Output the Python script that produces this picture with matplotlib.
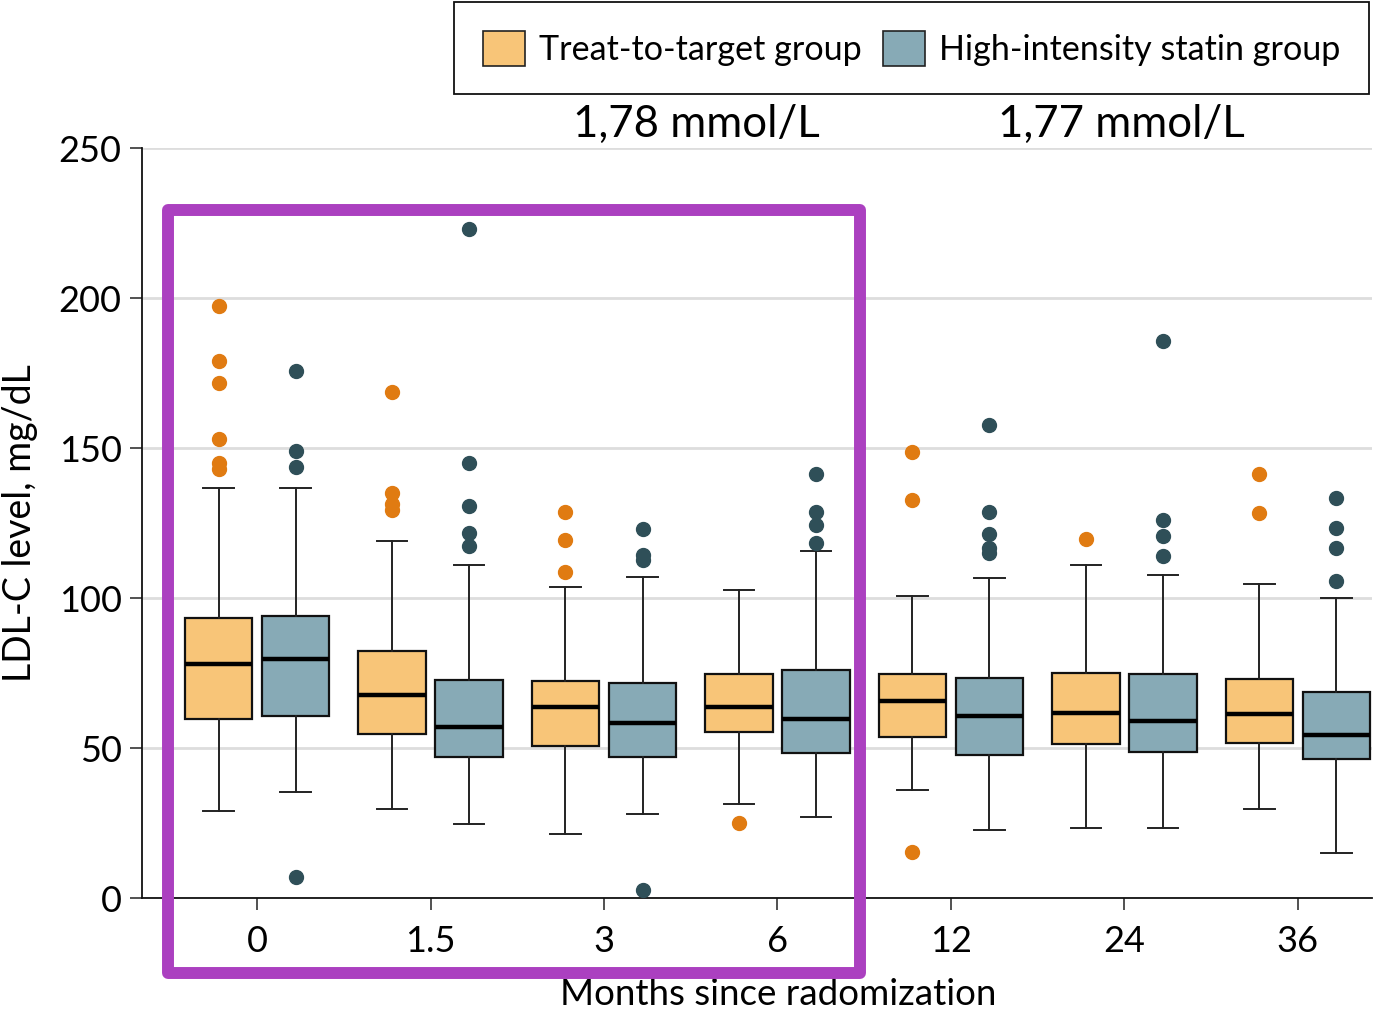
import matplotlib
matplotlib.use("Agg")
import matplotlib.pyplot as plt
from matplotlib.patches import Patch, Rectangle
import numpy as np

plt.rcParams['font.family'] = ['Lato', 'DejaVu Sans']

months = ["0", "1.5", "3", "6", "12", "24", "36"]

treat_q1 = [59.8, 54.6, 50.8, 55.4, 53.8, 51.4, 51.7]
treat_med = [77.9, 67.8, 63.6, 63.6, 65.7, 61.7, 61.4]
treat_q3 = [93.3, 82.2, 72.5, 74.7, 74.7, 75.1, 73.0]
treat_wlo = [28.9, 29.8, 21.5, 31.5, 36.0, 23.5, 29.6]
treat_whi = [136.8, 118.9, 103.6, 102.7, 100.8, 111.0, 104.6]
treat_fliers = [[197.4, 179.0, 171.8, 152.9, 144.9, 143.1],
                [168.6, 135.0, 131.5, 129.2],
                [128.8, 119.2, 108.6],
                [24.9],
                [148.7, 132.7, 15.4],
                [119.8],
                [141.3, 128.3]]

statin_q1 = [60.7, 47.1, 47.1, 48.2, 47.7, 48.7, 46.2]
statin_med = [79.6, 56.9, 58.4, 59.7, 60.6, 58.9, 54.3]
statin_q3 = [93.9, 72.7, 71.6, 75.9, 73.2, 74.7, 68.6]
statin_wlo = [35.2, 24.8, 28.0, 26.9, 22.7, 23.5, 14.9]
statin_whi = [136.8, 110.9, 107.0, 115.8, 106.6, 107.7, 100.0]
statin_fliers = [[175.7, 148.9, 143.7, 7.0],
                 [223.1, 145.1, 130.7, 121.8, 117.5],
                 [123.0, 114.5, 112.8, 2.7],
                 [141.2, 128.8, 124.5, 118.4],
                 [157.8, 128.7, 121.4, 116.6, 115.1],
                 [185.6, 125.9, 120.7, 114.0],
                 [133.2, 123.5, 116.7, 105.6]]

group_labels = ["Treat-to-target group", "High-intensity statin group"]
target_labels = ["1,78 mmol/L", "1,77 mmol/L"]

treat_fill = "#F8C578"
statin_fill = "#87AAB6"
treat_dot = "#E07B12"
statin_dot = "#2F4F58"
purple = "#AB40C0"

W, H = 1377, 1015
fig = plt.figure(figsize=(W / 100, H / 100), dpi=100)
ax = fig.add_axes([142 / W, 1 - 898 / H, (1372 - 142) / W, 750 / H])


def stats(q1, med, q3, lo, hi, fl):
    return [dict(q1=a, med=b, q3=c, whislo=d, whishi=e, fliers=f)
            for a, b, c, d, e, f in zip(q1, med, q3, lo, hi, fl)]


x = np.arange(len(months))
off = 0.222
bw = 0.39


def draw(st, pos, fill, dot):
    ax.bxp(st, positions=pos, widths=bw, capwidths=0.175, patch_artist=True,
           manage_ticks=False,
           boxprops=dict(facecolor=fill, edgecolor="#111111", linewidth=1.6),
           medianprops=dict(color="black", linewidth=3.2),
           whiskerprops=dict(color="#222222", linewidth=1.4),
           capprops=dict(color="#222222", linewidth=1.4),
           flierprops=dict(marker="o", markersize=10, markerfacecolor=dot,
                           markeredgecolor=dot, linestyle="none"),
           zorder=3)


draw(stats(treat_q1, treat_med, treat_q3, treat_wlo, treat_whi, treat_fliers),
     x - off, treat_fill, treat_dot)
draw(stats(statin_q1, statin_med, statin_q3, statin_wlo, statin_whi, statin_fliers),
     x + off, statin_fill, statin_dot)

ax.set_xlim(-0.663, 6.427)
ax.set_ylim(0, 250)
ax.set_yticks([0, 50, 100, 150, 200, 250])
ax.set_xticks(x)
ax.set_xticklabels(months)
ax.yaxis.grid(True, color="#dddddd", linewidth=2)
ax.set_axisbelow(True)
for s in ["top", "right"]:
    ax.spines[s].set_visible(False)
for s in ["left", "bottom"]:
    ax.spines[s].set_linewidth(1.3)
    ax.spines[s].set_color("#111111")
ax.tick_params(axis="both", labelsize=26, length=8.6, width=1.2, color="#333333")
ax.tick_params(axis="x", pad=11)
ax.tick_params(axis="y", pad=6)

ax.set_ylabel("LDL-C level, mg/dL", fontsize=27)
ax.yaxis.set_label_coords(-0.0846, 0.5)
ax.set_xlabel("Months since radomization", fontsize=26.5)
ax.xaxis.set_label_coords(0.517, -0.107)

# Purple highlight frame around the first four time points
rect = Rectangle((-0.513, -25.0), 3.476 + 0.513, 229.5 + 25.0, fill=False,
                 edgecolor=purple, linewidth=8.6, joinstyle="round",
                 clip_on=False, zorder=5)
ax.add_patch(rect)

handles = [Patch(facecolor=treat_fill, edgecolor="#222222", linewidth=1.2),
           Patch(facecolor=statin_fill, edgecolor="#222222", linewidth=1.2)]
leg = fig.legend(handles, group_labels, loc="upper right",
                 bbox_to_anchor=(1369 / W, 1 - 2 / H), ncol=2, fontsize=24.6,
                 frameon=True, fancybox=False, edgecolor="#111111",
                 framealpha=1, borderaxespad=0, borderpad=0.84,
                 handlelength=1.24, handleheight=1.2, handletextpad=0.4,
                 columnspacing=0.62)
leg.get_frame().set_linewidth(1.3)

fig.text(696 / W, 1 - 137 / H, target_labels[0], fontsize=31.5, ha="center",
         va="baseline")
fig.text(1121 / W, 1 - 137 / H, target_labels[1], fontsize=31.5, ha="center",
         va="baseline")

fig.savefig("out.png", dpi=100)
